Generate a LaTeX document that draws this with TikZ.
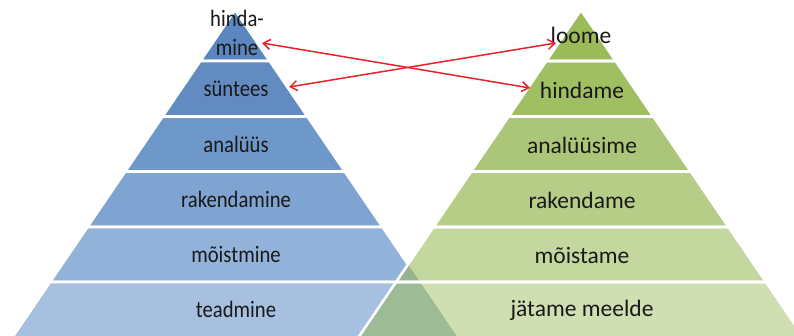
\documentclass[tikz,border=0pt]{standalone}
\usepackage{fontspec}
\setmainfont{Carlito}
\newfontfamily\condfont[FakeStretch=0.88]{Carlito}
\usetikzlibrary{arrows.meta}
\definecolor{bA}{HTML}{5B86BF}
\definecolor{bB}{HTML}{628BC2}
\definecolor{bC}{HTML}{6F98CA}
\definecolor{bD}{HTML}{80A4D2}
\definecolor{bE}{HTML}{93B2DA}
\definecolor{bF}{HTML}{A7C0E0}
\definecolor{gA}{HTML}{9BBB59}
\definecolor{gB}{HTML}{A0BF63}
\definecolor{gC}{HTML}{ABC678}
\definecolor{gD}{HTML}{B6CD88}
\definecolor{gE}{HTML}{C4D79F}
\definecolor{gF}{HTML}{CFDFB1}
\definecolor{oE}{HTML}{96B48D}
\definecolor{oF}{HTML}{9DBB96}
\definecolor{arrred}{HTML}{E0262B}
\tikzset{
  bandline/.style={draw=white, line width=2.6pt, line join=round},
  lbl/.style={text=black!90, font=\fontsize{23.5}{29}\selectfont, inner sep=0pt, align=center},
  lblL/.style={lbl, font=\condfont\fontsize{23.5}{29}\selectfont},
  arr/.style={draw=arrred, line width=1.5pt, {Straight Barb[length=7pt,width=10pt]}-{Straight Barb[length=7pt,width=10pt]}}
}
\begin{document}
\begin{tikzpicture}[x=1pt,y=-1pt]
\useasboundingbox (0,0) rectangle (794,335);
\clip (0,0) rectangle (794,335);
% blue pyramid
\foreach \ya/\yb/\c in {10/61/bA,61/116.5/bB,116.5/171.5/bC,171.5/227/bD,227/282/bE,282/345/bF}{
  \path[fill=\c, bandline] ({235-0.68*(\ya-10)},\ya) -- ({235+0.68*(\ya-10)},\ya) -- ({235+0.68*(\yb-10)},\yb) -- ({235-0.68*(\yb-10)},\yb) -- cycle;
}
% green pyramid fill
\foreach \ya/\yb/\c in {10/61/gA,61/116.5/gB,116.5/171.5/gC,171.5/227/gD,227/282/gE,282/345/gF}{
  \fill[\c] ({581-0.68*(\ya-10)},\ya) -- ({581+0.68*(\ya-10)},\ya) -- ({581+0.68*(\yb-10)},\yb) -- ({581-0.68*(\yb-10)},\yb) -- cycle;
}
% overlap
\begin{scope}
  \clip (235,10) -- ({235+0.68*335},345) -- ({235-0.68*335},345) -- cycle;
  \foreach \ya/\yb/\c in {227/282/oE,282/345/oF}{
    \fill[\c] ({581-0.68*(\ya-10)},\ya) -- ({581+0.68*(\ya-10)},\ya) -- ({581+0.68*(\yb-10)},\yb) -- ({581-0.68*(\yb-10)},\yb) -- cycle;
  }
\end{scope}
% green outlines
\foreach \ya/\yb in {10/61,61/116.5,116.5/171.5,171.5/227,227/282,282/345}{
  \path[bandline] ({581-0.68*(\ya-10)},\ya) -- ({581+0.68*(\ya-10)},\ya) -- ({581+0.68*(\yb-10)},\yb) -- ({581-0.68*(\yb-10)},\yb) -- cycle;
}
% labels left
\node[lblL] (l1) at (237,33) {hinda-\\mine};
\node[lblL] (l2) at (236,89) {süntees};
\node[lblL] (l3) at (236,144) {analüüs};
\node[lblL] (l4) at (236,199) {rakendamine};
\node[lblL] (l5) at (236,254) {mõistmine};
\node[lblL] (l6) at (236,309) {teadmine};
% labels right
\node[lbl] (r1) at (581,35) {loome};
\node[lbl] (r2) at (582,90) {hindame};
\node[lbl] (r3) at (582,145) {analüüsime};
\node[lbl] (r4) at (582,200) {rakendame};
\node[lbl] (r5) at (582,255) {mõistame};
\node[lbl] (r6) at (582,310) {jätame meelde};
% arrows
\coordinate (a1) at (262,43);
\coordinate (a2) at (530,88);
\coordinate (b1) at (289,87);
\coordinate (b2) at (556,43);
\draw[arr] (a1) -- (a2);
\draw[arr] (b1) -- (b2);
\end{tikzpicture}
\end{document}
